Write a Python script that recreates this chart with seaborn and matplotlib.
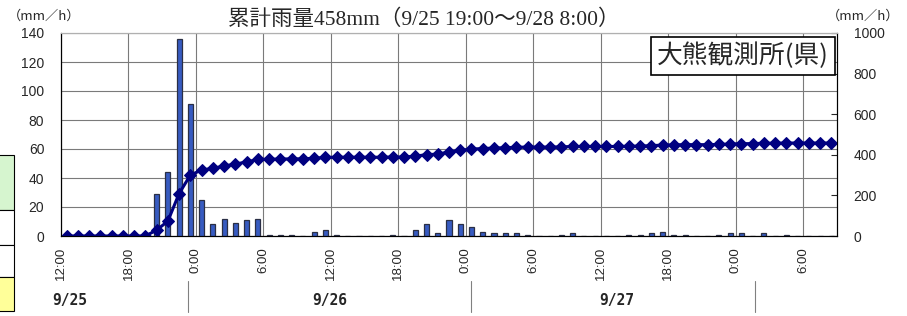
import matplotlib.pyplot as plt
import numpy as np
import seaborn as sns
from matplotlib.lines import Line2D
from matplotlib.patches import Rectangle

# hourly rainfall (mm/h), one value per hour starting 9/25 12:00
rain = [0, 0, 0, 0, 0, 0, 0, 0,
        29, 44, 136, 91, 25, 8, 12, 9, 11, 12,
        1, 1, 1, 0, 3, 4, 1, 0, 0, 0, 0, 1, 0,
        4, 8, 2, 11, 8, 6, 3, 2, 2, 2, 1, 0, 0,
        1, 2, 0, 0, 0, 0,
        1, 1, 2, 3, 1, 1, 0, 0,
        1, 2, 2, 0, 2, 0, 1, 0, 0, 0, 0]
hours = np.arange(len(rain))
cumulative = np.cumsum(rain)

tick_labels = ["12:00", "18:00", "0:00", "6:00", "12:00", "18:00",
               "0:00", "6:00", "12:00", "18:00", "0:00", "6:00"]
date_labels = ["9/25", "9/26", "9/27"]
title = "累計雨量458mm（9/25 19:00〜9/28 8:00）"
station = "大熊観測所(県)"

sns.set_style("white")
plt.rcParams["font.family"] = ["Liberation Sans", "Noto Sans CJK JP"]

fig = plt.figure(figsize=(9.07, 3.16), dpi=100)
ax = fig.add_axes([61 / 907, 1 - 236 / 316, 776 / 907, 203 / 316])

# Bars: hourly rain
sns.barplot(x=hours, y=rain, native_scale=True, width=0.45, errorbar=None,
            color="#2050d8", edgecolor="#2a2f45", linewidth=0.9, ax=ax, zorder=3)
ax.set_ylim(0, 140)
ax.set_yticks(range(0, 141, 20))
ax.set_xlabel("")
ax.set_ylabel("")

# Line: cumulative rain
ax2 = ax.twinx()
sns.lineplot(x=hours, y=cumulative, ax=ax2, color="#000080", linewidth=2.2,
             marker="D", markersize=6.5, markeredgecolor="#000080")
ax2.set_ylim(0, 1000)
ax2.set_yticks(range(0, 1001, 200))
ax2.set_ylabel("")

ticks = [-0.5 + 6 * k for k in range(len(tick_labels))]
ax.set_xticks(ticks)
ax.set_xticklabels(tick_labels, rotation=90, fontsize=9.5)
ax.set_xlim(-0.5, 68.5)

ax.grid(True, color="#7a7a7a", linewidth=0.8, zorder=0)
ax.set_axisbelow(True)
ax.tick_params(axis="y", length=0, pad=12, labelsize=10)
ax.tick_params(axis="x", length=0, pad=8)
ax2.tick_params(axis="y", direction="in", length=4, pad=12, labelsize=10)

for a in (ax, ax2):
    for side in ("left", "bottom", "right"):
        a.spines[side].set_color("black")
        a.spines[side].set_linewidth(0.8)
    a.spines["top"].set_color("#b0b0b0")

# texts
fig.text(424 / 907, 1 - 20 / 316, title, ha="center", va="center", fontsize=15.5,
         family=["Liberation Serif", "Noto Sans CJK JP"])
fig.text(829 / 907, 1 - 56 / 316, station, ha="right", va="center", fontsize=18.5,
         family=["Noto Sans CJK JP"],
         bbox=dict(boxstyle="square,pad=0.22", fc="white", ec="black", lw=1.2))
fig.text(8 / 907, 1 - 16 / 316, "（mm／h）", ha="left", va="center", fontsize=9.5,
         family=["Noto Sans CJK JP"])
fig.text(899 / 907, 1 - 16 / 316, "（mm／h）", ha="right", va="center", fontsize=9.5,
         family=["Noto Sans CJK JP"])

for xpix, lab in zip([70, 330, 617], date_labels):
    fig.text(xpix / 907, 1 - 301 / 316, lab, ha="center", va="center", fontsize=10.5,
             family=["DejaVu Sans Mono"], fontweight="semibold")
for xpix in [188, 471, 755]:
    fig.add_artist(Line2D([xpix / 907] * 2, [1 - 281 / 316, 1 - 312 / 316],
                          color="#808080", lw=0.8))

# cropped legend boxes on the left edge
for y0, y1, col in [(155, 210, "#d6f5cf"), (210, 245, "white"),
                    (245, 277, "white"), (277, 311, "#ffff99")]:
    fig.add_artist(Rectangle((-2 / 907, 1 - y1 / 316), 16 / 907, (y1 - y0) / 316,
                             transform=fig.transFigure, fc=col, ec="black", lw=0.8))

fig.savefig("out.png", dpi=100)
